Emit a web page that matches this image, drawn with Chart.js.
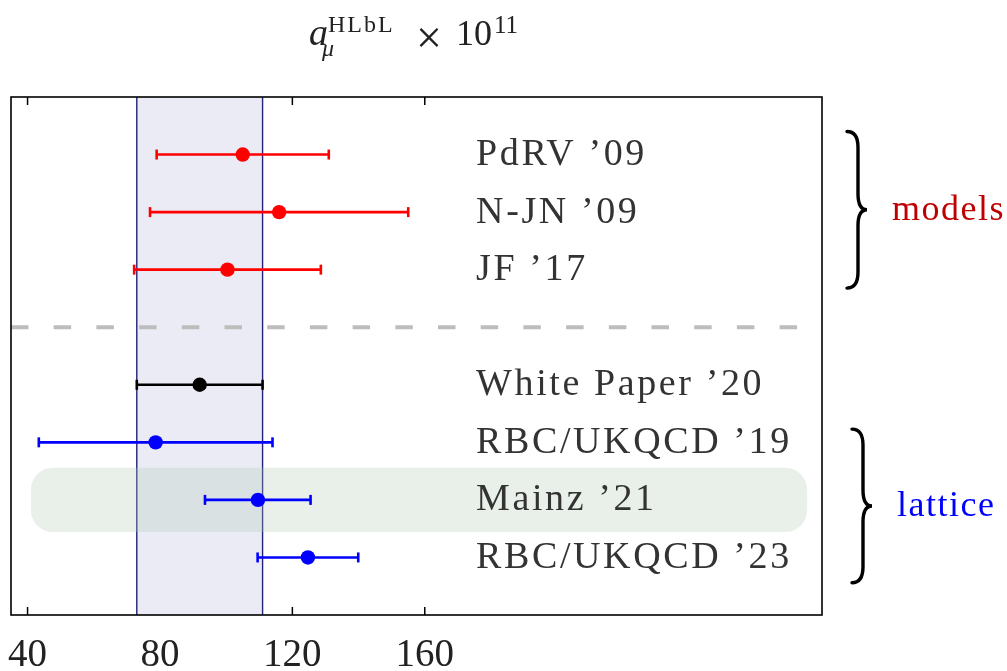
<!DOCTYPE html>
<html>
<head>
<meta charset="utf-8">
<script src="https://cdn.jsdelivr.net/npm/chart.js@4"></script>
<style>
  html, body { margin:0; padding:0; background:#fff; }
  canvas { display:block; }
</style>
</head>
<body>
<canvas id="chart" width="1007" height="671"></canvas>
<script>
// data (a_mu^HLbL x 10^11)
const labels  = ["PdRV ’09", "N-JN ’09", "JF ’17", "White Paper ’20", "RBC/UKQCD ’19", "Mainz ’21", "RBC/UKQCD ’23"];
const rows    = [0, 1, 2, 4, 5, 6, 7];
const central = [105, 116, 100.4, 92, 78.7, 109.6, 124.7];
const lower   = [79, 77, 72.2, 73, 43.4, 93.6, 109.5];
const upper   = [131, 155, 128.6, 111, 114, 125.5, 139.9];
const colors  = ["#ff0000", "#ff0000", "#ff0000", "#000000", "#0000ff", "#0000ff", "#0000ff"];
const xTicks  = [40, 80, 120, 160];

// White Paper band, separator and highlighted row
const band = [73, 111];
const separatorRow = 3;
const separatorSpan = [35, 274];
const highlightRow = 6;

// groups marked with braces on the right
const groupNames  = ["models", "lattice"];
const groupFrom   = [-0.4, 4.77];
const groupTo     = [2.32, 7.44];
const groupColors = ["#c00000", "#0000ff"];

const SERIF = "'Liberation Serif', 'Times New Roman', serif";
const $ = (id) => document.getElementById(id);

// ---------- datasets ----------
const pointSet = {
  label: "central",
  data: rows.map((r, i) => ({ x: central[i], y: r })),
  pointRadius: 7.2, pointHoverRadius: 7.2,
  pointBackgroundColor: colors, pointBorderWidth: 0,
  order: 0
};

const errSets = rows.map((r, i) => ({
  label: labels[i],
  data: [{ x: lower[i], y: r }, { x: upper[i], y: r }],
  showLine: true, borderColor: colors[i], borderWidth: 2.6,
  pointStyle: "line", pointRotation: 90, pointRadius: 5, pointHoverRadius: 5,
  pointBorderColor: colors[i], pointBorderWidth: 2.6,
  order: 1
}));

const sepSet = {
  label: "sep",
  data: separatorSpan.map(x => ({ x, y: separatorRow })),
  showLine: true, borderColor: "#bdbdbd", borderWidth: 4,
  borderDash: [17.5, 25.2], borderCapStyle: "butt",
  pointRadius: 0, pointHoverRadius: 0,
  order: 2
};

// ---------- drawing helpers ----------
function drawBrace(ctx, x0, xm, xt, yTop, yBot){
  const ym = (yTop + yBot) / 2, r = 16;
  ctx.beginPath();
  ctx.moveTo(x0, yTop);
  ctx.quadraticCurveTo(xm, yTop, xm, yTop + r);
  ctx.lineTo(xm, ym - r);
  ctx.quadraticCurveTo(xm, ym, xt, ym);
  ctx.quadraticCurveTo(xm, ym, xm, ym + r);
  ctx.lineTo(xm, yBot - r);
  ctx.quadraticCurveTo(xm, yBot, x0, yBot);
  ctx.stroke();
}

const backdrop = {
  id: "backdrop",
  beforeDatasetsDraw(chart){
    const { ctx, chartArea: a, scales: { x, y } } = chart;
    ctx.save();
    // inward ticks
    ctx.strokeStyle = "#000"; ctx.lineWidth = 1.5;
    xTicks.forEach(v => {
      const px = x.getPixelForValue(v);
      ctx.beginPath();
      ctx.moveTo(px, a.bottom); ctx.lineTo(px, a.bottom - 8);
      ctx.moveTo(px, a.top); ctx.lineTo(px, a.top + 8);
      ctx.stroke();
    });
    // band
    const b0 = x.getPixelForValue(band[0]), b1 = x.getPixelForValue(band[1]);
    ctx.fillStyle = "#ebebf5";
    ctx.fillRect(b0, a.top, b1 - b0, a.bottom - a.top);
    ctx.strokeStyle = "#22227a"; ctx.lineWidth = 1.4;
    ctx.beginPath();
    ctx.moveTo(b0, a.top); ctx.lineTo(b0, a.bottom);
    ctx.moveTo(b1, a.top); ctx.lineTo(b1, a.bottom);
    ctx.stroke();
    // highlighted row
    const hx0 = x.getPixelForValue(41), hx1 = x.getPixelForValue(275.5);
    const hy0 = y.getPixelForValue(highlightRow - 0.56), hy1 = y.getPixelForValue(highlightRow + 0.56);
    ctx.fillStyle = "rgba(175,200,175,0.28)";
    ctx.beginPath();
    ctx.roundRect(hx0, hy0, hx1 - hx0, hy1 - hy0, 22);
    ctx.fill();
    ctx.restore();
  },
  afterDatasetsDraw(chart){
    const { ctx, chartArea: a, scales: { x, y } } = chart;
    ctx.save();
    // row labels
    ctx.fillStyle = "#333";
    ctx.font = "38px " + SERIF;
    ctx.letterSpacing = "2.6px";
    ctx.textAlign = "left"; ctx.textBaseline = "alphabetic";
    rows.forEach((r, i) => ctx.fillText(labels[i], x.getPixelForValue(175.5), y.getPixelForValue(r) + 10.5));
    ctx.letterSpacing = "0px";
    // frame
    ctx.strokeStyle = "#000"; ctx.lineWidth = 1.6;
    ctx.strokeRect(a.left, a.top, a.right - a.left, a.bottom - a.top);
    ctx.restore();
  },
  afterDraw(chart){
    const { ctx, chartArea: a, scales: { y } } = chart;
    ctx.save();
    // braces + group names
    ctx.strokeStyle = "#000"; ctx.lineWidth = 3.4; ctx.lineCap = "round";
    groupNames.forEach((g, i) => {
      const off = i * 5;
      const y0 = y.getPixelForValue(groupFrom[i]), y1 = y.getPixelForValue(groupTo[i]);
      drawBrace(ctx, a.right + 25 + off, a.right + 36 + off, a.right + 45 + off, y0, y1);
      ctx.fillStyle = groupColors[i];
      ctx.font = "36px " + SERIF;
      ctx.letterSpacing = "1.5px";
      ctx.textBaseline = "alphabetic";
      ctx.fillText(g, a.right + 70 + off, (y0 + y1) / 2 + 10);
    });
    // title: a_mu^HLbL x 10^11
    ctx.fillStyle = "#222";
    ctx.letterSpacing = "0px";
    ctx.font = "italic 38px " + SERIF;
    ctx.fillText("a", 309, 45);
    ctx.font = "24px " + SERIF;
    ctx.letterSpacing = "2px";
    ctx.fillText("HLbL", 328, 31.5);
    ctx.letterSpacing = "0px";
    ctx.font = "italic 24px " + SERIF;
    ctx.fillText("μ", 322, 56);
    ctx.font = "46px " + SERIF;
    ctx.fillText("×", 416, 53);
    ctx.font = "36px " + SERIF;
    ctx.fillText("10", 456, 45);
    ctx.font = "25px " + SERIF;
    ctx.fillText("11", 494, 33);
    ctx.restore();
  }
};

new Chart($("chart").getContext("2d"), {
  type: "scatter",
  data: { datasets: [pointSet, ...errSets, sepSet] },
  options: {
    responsive: false,
    animation: false,
    devicePixelRatio: 1,
    layout: { padding: { top: 97, left: 11, right: 185, bottom: 0 } },
    plugins: { legend: { display: false }, tooltip: { enabled: false } },
    scales: {
      x: {
        type: "linear", min: 35, max: 280,
        afterBuildTicks: (s) => { s.ticks = xTicks.map(v => ({ value: v })); },
        afterFit: (s) => { s.height = 56; s.paddingLeft = 0; s.paddingRight = 0; },
        grid: { display: false },
        border: { display: false },
        ticks: { autoSkip: false, maxRotation: 0, padding: 9, color: "#222", font: { family: SERIF, size: 39 } }
      },
      y: { type: "linear", display: false, reverse: true, min: -1, max: 8 }
    }
  },
  plugins: [backdrop]
});
</script>
</body>
</html>
